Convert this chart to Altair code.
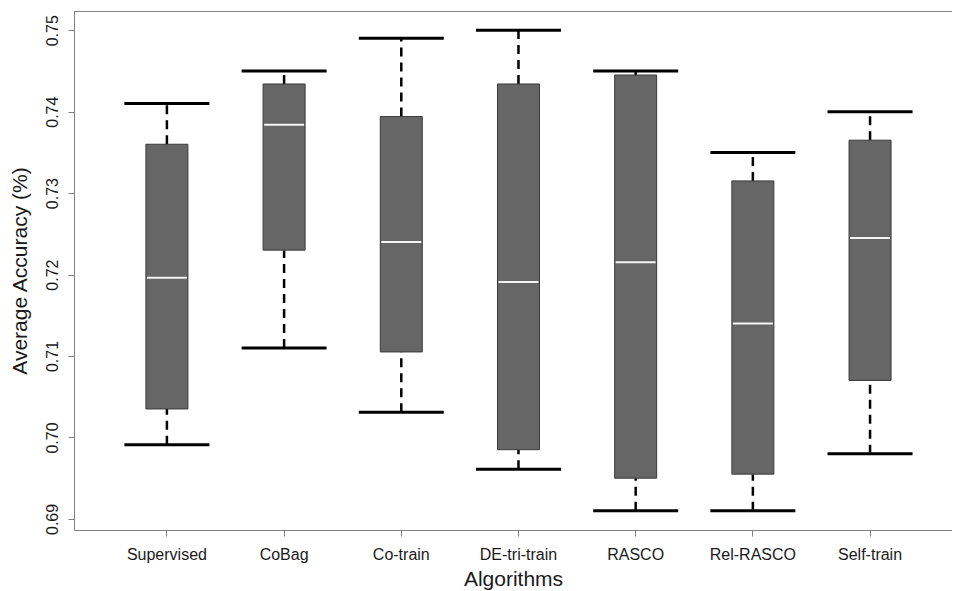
import altair as alt
import pandas as pd

algorithms = ["Supervised", "CoBag", "Co-train", "DE-tri-train", "RASCO", "Rel-RASCO", "Self-train"]
whisker_low = [0.6991, 0.7110, 0.7031, 0.6961, 0.6910, 0.6910, 0.6980]
q1 = [0.7035, 0.7230, 0.7105, 0.6985, 0.6950, 0.6955, 0.7070]
median = [0.7196, 0.7384, 0.7240, 0.7191, 0.7215, 0.7140, 0.7245]
q3 = [0.7360, 0.7434, 0.7394, 0.7434, 0.7445, 0.7315, 0.7365]
whisker_high = [0.7410, 0.7450, 0.7490, 0.7500, 0.7450, 0.7350, 0.7400]
y_ticks = [0.69, 0.70, 0.71, 0.72, 0.73, 0.74, 0.75]

df = pd.DataFrame({
    "alg": algorithms,
    "wlo": whisker_low,
    "q1": q1,
    "med": median,
    "q3": q3,
    "whi": whisker_high,
})

FONT = "Liberation Sans"
AXIS_GREY = "#808080"
TEXT = "#1a1a1a"
W, H = 878, 519

x = alt.X(
    "alg:N",
    sort=algorithms,
    scale=alt.Scale(paddingInner=0, paddingOuter=0.246, align=0.595),
    axis=alt.Axis(
        title="Algorithms",
        labelAngle=0,
        labelFontSize=16,
        labelColor=TEXT,
        labelFont=FONT,
        labelPadding=10,
        tickSize=6,
        tickColor=AXIS_GREY,
        domainColor=AXIS_GREY,
        titleFont=FONT,
        titleFontSize=21,
        titleFontWeight="normal",
        titleColor=TEXT,
        titleBaseline="middle",
        titleY=49,
        grid=False,
    ),
)

yscale = alt.Scale(domain=[0.68864, 0.75236], nice=False, zero=False)
yaxis = alt.Axis(
    title="Average Accuracy (%)",
    values=y_ticks,
    format=".2f",
    labelAngle=-90,
    labelAlign="center",
    labelBaseline="bottom",
    labelFontSize=16,
    labelColor=TEXT,
    labelFont=FONT,
    labelPadding=8,
    tickSize=6,
    tickColor=AXIS_GREY,
    domainColor=AXIS_GREY,
    titleFont=FONT,
    titleFontSize=21,
    titleFontWeight="normal",
    titleColor=TEXT,
    titleBaseline="middle",
    titleX=-54,
    grid=False,
)

base = alt.Chart(df)

dash = dict(color="black", strokeWidth=2.5, strokeDash=[9, 6], opacity=1)
upper_whisker = base.mark_rule(**dash).encode(
    x=x, y=alt.Y("q3:Q", scale=yscale, axis=yaxis), y2="whi:Q"
)
lower_whisker = base.mark_rule(**dash).encode(
    x=x, y=alt.Y("wlo:Q", scale=yscale, axis=yaxis), y2="q1:Q"
)
caps_hi = base.mark_tick(color="black", size=85, thickness=3, opacity=1).encode(
    x=x, y=alt.Y("whi:Q", scale=yscale, axis=yaxis)
)
caps_lo = base.mark_tick(color="black", size=85, thickness=3, opacity=1).encode(
    x=x, y=alt.Y("wlo:Q", scale=yscale, axis=yaxis)
)
boxes = base.mark_bar(size=42, fill="#666666", stroke="#3a3a3a", strokeWidth=1, opacity=1).encode(
    x=x, y=alt.Y("q1:Q", scale=yscale, axis=yaxis), y2="q3:Q"
)
medians = base.mark_tick(color="#f4f4f4", size=40, thickness=2, opacity=1).encode(
    x=x, y=alt.Y("med:Q", scale=yscale, axis=yaxis)
)
# top frame line (the reference frame runs off the right edge of the image)
top_frame = alt.Chart(df.head(1)).mark_rule(color=AXIS_GREY, strokeWidth=1).encode(
    x=alt.value(0), x2=alt.value(W), y=alt.value(0.5)
)

chart = alt.layer(
    upper_whisker, lower_whisker, caps_hi, caps_lo, boxes, medians, top_frame
).properties(
    width=W,
    height=H,
    autosize=alt.AutoSizeParams(type="none"),
    padding={"left": 66, "top": 3, "right": 0, "bottom": 61},
).configure_view(
    strokeWidth=0
).configure(background="white")

chart.save("out.html", embed_options={"renderer": "svg", "actions": False})
